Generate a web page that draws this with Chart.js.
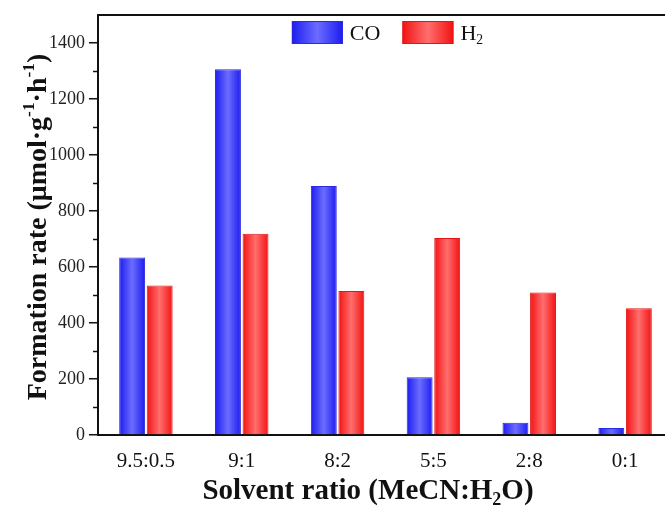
<!DOCTYPE html>
<html><head><meta charset="utf-8">
<script src="https://cdn.jsdelivr.net/npm/chart.js@4.4.0/dist/chart.umd.min.js"></script>
<style>
html,body{margin:0;padding:0;background:#fff;overflow:hidden;width:665px;height:506px}
#wrap{width:675px;height:506px}
</style></head>
<body><div id="wrap"><canvas id="c" width="675" height="506"></canvas></div>
<script>
// ---- data ----
const categories = ['9.5:0.5', '9:1', '8:2', '5:5', '2:8', '0:1'];
const coValues = [634, 1306, 889, 206, 44, 25];
const h2Values = [534, 719, 514, 704, 509, 453];
const seriesLabels = ['CO', 'H_{2}'];
const yTicks = [0, 200, 400, 600, 800, 1000, 1200, 1400];
const yMinorTicks = [100, 300, 500, 700, 900, 1100, 1300];
const xTitle = 'Solvent ratio (MeCN:H_{2}O)';
const yTitle = 'Formation rate (\u03bcmol\u00b7g^{-1}\u00b7h^{-1})';

// ---- styles ----
const FONT = "'Liberation Serif','Times New Roman',serif";
const seriesStyles = [
  {edge: '#1c1cf0', mid: '#6c6cff', border: '#2a2ae0'},
  {edge: '#f21212', mid: '#ff6e6e', border: '#e51515'}
];

function shade(ctx, x0, x1, st) {
  const g = ctx.createLinearGradient(x0, 0, x1, 0);
  g.addColorStop(0, st.edge);
  g.addColorStop(0.5, st.mid);
  g.addColorStop(1, st.edge);
  return g;
}

function parseRich(s) {
  const out = []; const re = /([_^])\{([^}]*)\}/g; let last = 0, m;
  while ((m = re.exec(s))) {
    if (m.index > last) out.push({t: s.slice(last, m.index), k: 0});
    out.push({t: m[2], k: m[1] === '_' ? -1 : 1});
    last = re.lastIndex;
  }
  if (last < s.length) out.push({t: s.slice(last), k: 0});
  return out;
}
function segFont(seg, size, weight) {
  const sz = seg.k === 0 ? size : size * 0.62;
  return weight + ' ' + sz + 'px ' + FONT;
}
function richWidth(ctx, segs, size, weight) {
  let w = 0;
  segs.forEach(s => { ctx.font = segFont(s, size, weight); w += ctx.measureText(s.t).width; });
  return w;
}
function drawRich(ctx, segs, x, y, size, weight, color) {
  ctx.fillStyle = color; ctx.textAlign = 'left'; ctx.textBaseline = 'alphabetic';
  let cx = x;
  segs.forEach(s => {
    ctx.font = segFont(s, size, weight);
    const dy = s.k === 1 ? -size * 0.42 : (s.k === -1 ? size * 0.22 : 0);
    ctx.fillText(s.t, cx, y + dy);
    cx += ctx.measureText(s.t).width;
  });
}

const decor = {
  id: 'decor',
  beforeDatasetsDraw(chart) {
    chart.data.datasets.forEach((ds, i) => {
      const meta = chart.getDatasetMeta(i);
      meta.data.forEach(el => {
        const p = el.getProps(['x', 'width'], true);
        el.options.backgroundColor = shade(chart.ctx, p.x - p.width / 2, p.x + p.width / 2, seriesStyles[i]);
      });
    });
  },
  afterDraw(chart) {
    const ctx = chart.ctx, a = chart.chartArea, ys = chart.scales.y;
    ctx.save();
    // frame top / right
    ctx.strokeStyle = '#111'; ctx.lineWidth = 2;
    ctx.beginPath();
    ctx.moveTo(a.left, a.top); ctx.lineTo(a.right, a.top); ctx.lineTo(a.right, a.bottom);
    ctx.stroke();
    // minor ticks
    ctx.lineWidth = 1.5;
    yMinorTicks.forEach(v => {
      const py = Math.round(ys.getPixelForValue(v)) + 0.5;
      ctx.beginPath(); ctx.moveTo(a.left - 5, py); ctx.lineTo(a.left, py); ctx.stroke();
    });
    // legend
    const lsize = 22, boxW = 51, boxH = 23, gap = 7, spacing = 22;
    const items = seriesLabels.map(l => parseRich(l));
    const widths = items.map(s => richWidth(ctx, s, lsize, 'normal'));
    let total = 0;
    widths.forEach((w, i) => { total += boxW + gap + w + (i < widths.length - 1 ? spacing : 0); });
    let lx = (a.left + a.right) / 2 + 2 - total / 2;
    const ly = a.top + 6;
    items.forEach((segs, i) => {
      const st = seriesStyles[i];
      ctx.fillStyle = shade(ctx, lx, lx + boxW, st);
      ctx.fillRect(lx, ly, boxW, boxH);
      ctx.strokeStyle = st.border; ctx.lineWidth = 1;
      ctx.strokeRect(lx + 0.5, ly + 0.5, boxW - 1, boxH - 1);
      drawRich(ctx, segs, lx + boxW + gap, ly + boxH / 2 + 7, lsize, 'normal', '#111');
      lx += boxW + gap + widths[i] + spacing;
    });
    // x title
    const tsize = 29;
    const xs = parseRich(xTitle);
    const xw = richWidth(ctx, xs, tsize, 'bold');
    drawRich(ctx, xs, 368 - xw / 2, 499, tsize, 'bold', '#111');
    // y title
    const ysg = parseRich(yTitle);
    const yw = richWidth(ctx, ysg, 28, 'bold');
    ctx.translate(46, (a.top + a.bottom) / 2 + 2);
    ctx.rotate(-Math.PI / 2);
    drawRich(ctx, ysg, -yw / 2, 0, 28, 'bold', '#111');
    ctx.restore();
  }
};

new Chart(document.getElementById('c'), {
  type: 'bar',
  data: {
    labels: categories,
    datasets: [
      {label: seriesLabels[0], data: coValues, backgroundColor: () => seriesStyles[0].mid,
       borderColor: seriesStyles[0].border, borderWidth: 1},
      {label: seriesLabels[1], data: h2Values, backgroundColor: () => seriesStyles[1].mid,
       borderColor: seriesStyles[1].border, borderWidth: 1}
    ]
  },
  options: {
    responsive: false,
    animation: false,
    devicePixelRatio: 1,
    layout: {padding: {left: 0, top: 15, right: 2, bottom: 0}},
    datasets: {bar: {categoryPercentage: 0.575, barPercentage: 0.94}},
    plugins: {legend: {display: false}, tooltip: {enabled: false}},
    scales: {
      x: {
        grid: {display: false, drawTicks: false},
        border: {display: true, color: '#111', width: 2},
        ticks: {font: {family: FONT, size: 21}, color: '#111', padding: 14, maxRotation: 0},
        afterFit: s => { s.height = 71; }
      },
      y: {
        min: 0, max: 1500,
        afterBuildTicks: s => { s.ticks = yTicks.map(v => ({value: v})); },
        grid: {display: true, drawOnChartArea: false, drawTicks: true, tickLength: 9, color: '#111', lineWidth: 1.5},
        border: {display: true, color: '#111', width: 2},
        ticks: {font: {family: FONT, size: 18}, color: '#222', padding: 4, callback: v => String(v)},
        afterFit: s => { s.width = 98; }
      }
    }
  },
  plugins: [decor]
});
</script>
</body></html>
